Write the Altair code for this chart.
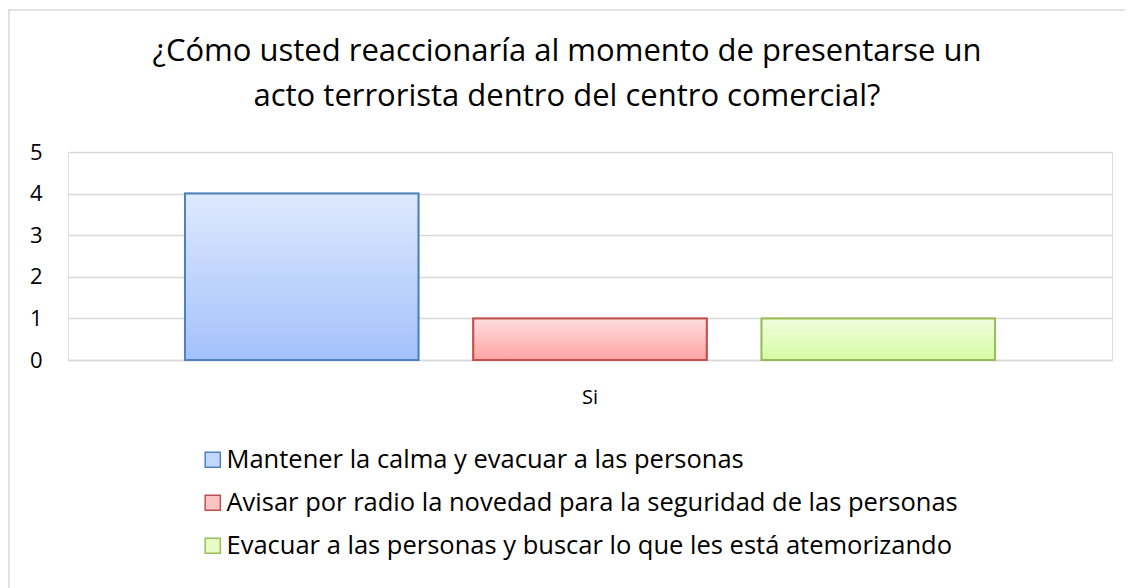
import altair as alt
import pandas as pd

categories = ["Si", "Si", "Si"]
series = [
    "Mantener la calma y evacuar a las personas",
    "Avisar por radio la novedad para la seguridad de las personas",
    "Evacuar a las personas y buscar lo que les está atemorizando",
]
values = [4, 1, 1]
y_ticks = [0, 1, 2, 3, 4, 5]
title_lines = ["¿Cómo usted reaccionaría al momento de presentarse un",
               "acto terrorista dentro del centro comercial?"]

fill_top = ["#dee9fd", "#ffdede", "#effddf"]
fill_bottom = ["#a3c1fb", "#ffa3a3", "#d6fba3"]
strokes = ["#4f81bd", "#c0504d", "#9bbb59"]
legend_fills = ["#c3d7fc", "#ffc3c3", "#e6fcc4"]

df = pd.DataFrame({"cat": categories, "serie": series, "valor": values})
one = pd.DataFrame({"k": [0]})

FONT = "Open Sans"
W, H = 1044, 208

x_enc = alt.X("cat:N", title=None,
              scale=alt.Scale(paddingInner=0, paddingOuter=0.1444),
              axis=alt.Axis(labelAngle=0, labelFontSize=20, labelColor="#000000",
                            labelPadding=27, ticks=False, domainColor="#d9d9d9",
                            domainWidth=1.5, labelFont=FONT))
xoff_enc = alt.XOffset("serie:N", sort=series,
                       scale=alt.Scale(paddingInner=0.19, paddingOuter=0))
y_enc = alt.Y("valor:Q", title=None,
              scale=alt.Scale(domain=[0, 5], nice=False),
              axis=alt.Axis(values=y_ticks, labelFontSize=22, labelColor="#000000",
                            labelPadding=26, ticks=False, domain=False,
                            gridColor="#d9d9d9", gridWidth=1.5, labelFont=FONT))

border = alt.Chart(one).mark_rect(
    fill="transparent", stroke="#d9d9d9", strokeWidth=1.5, clip=False
).encode(x=alt.value(-59), x2=alt.value(W + 100), y=alt.value(-142), y2=alt.value(H + 300))

title = alt.Chart(one).mark_text(
    text=title_lines, font=FONT, fontSize=31, color="#000000",
    align="center", baseline="middle", lineHeight=45,
).encode(x=alt.value(567 - 68), y=alt.value(52 - 152))

base = alt.Chart(df).mark_bar(strokeWidth=1.5).encode(
    x=x_enc,
    xOffset=xoff_enc,
    y=y_enc,
    fill=alt.Fill("serie:N", sort=series,
                  scale=alt.Scale(domain=series, range=legend_fills),
                  legend=alt.Legend(title=None, orient="none", legendX=132, legendY=295,
                                    direction="vertical", symbolType="square",
                                    symbolSize=230, symbolStrokeWidth=1.5,
                                    labelFontSize=25.5, labelFont=FONT, labelColor="#000000",
                                    labelLimit=1000, rowPadding=16, labelOffset=1)),
    stroke=alt.Stroke("serie:N", sort=series,
                      scale=alt.Scale(domain=series, range=strokes)),
)

layers = [border, title, base]
for s, t, b, st in zip(series, fill_top, fill_bottom, strokes):
    grad = alt.Gradient(gradient="linear", x1=0, y1=0, x2=0, y2=1,
                        stops=[alt.GradientStop(color=t, offset=0),
                               alt.GradientStop(color=b, offset=1)])
    layers.append(
        alt.Chart(df).transform_filter(alt.datum.serie == s)
        .mark_bar(fill=grad, stroke=st, strokeWidth=2)
        .encode(x=x_enc, xOffset=xoff_enc, y=y_enc)
    )

chart = alt.layer(*layers).properties(
    width=W, height=H,
    autosize=alt.AutoSizeParams(type="none"),
    padding={"left": 60, "top": 144, "right": 13, "bottom": 228},
).configure_view(stroke=None).configure(background="#ffffff")

chart.save("out.html", embed_options={"renderer": "svg", "actions": False})
